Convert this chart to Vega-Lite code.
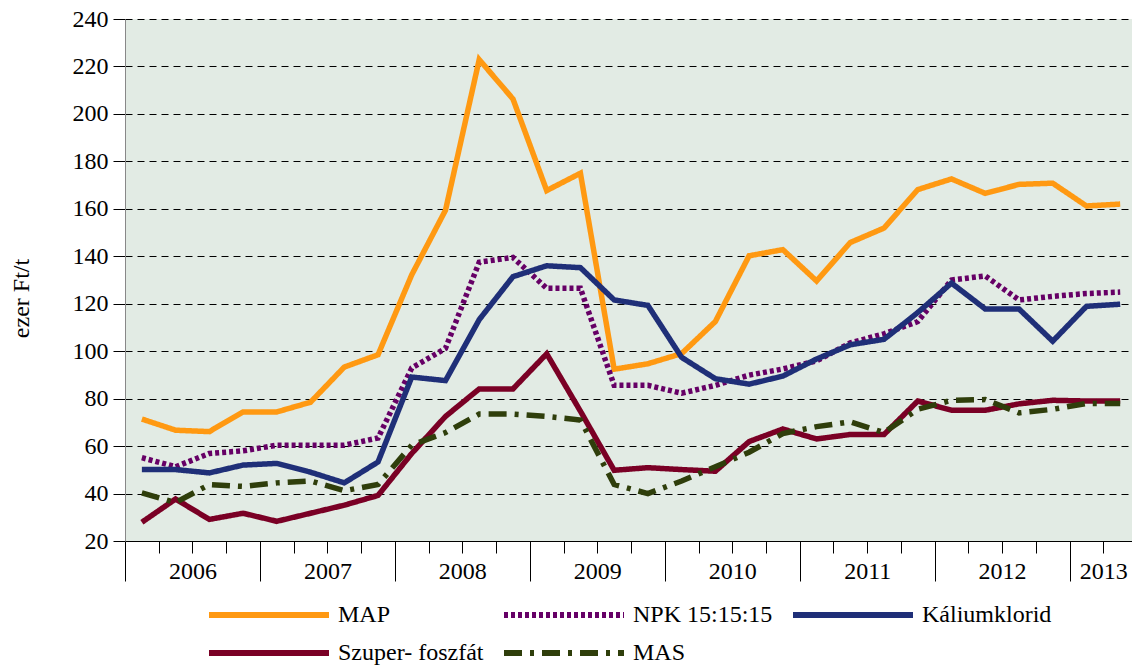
{
  "$schema": "https://vega.github.io/schema/vega-lite/v6.json",
  "width": 1007,
  "height": 522,
  "autosize": {"type": "none"},
  "padding": {"left": 125, "top": 19, "right": 0, "bottom": 125},
  "config": {
    "font": "Liberation Serif",
    "view": {"stroke": null, "fill": "#E2EBE4"},
    "axis": {"labelFont": "Liberation Serif", "labelFontSize": 24, "labelColor": "#000", "titleFont": "Liberation Serif", "titleColor": "#000", "tickColor": "#000", "tickWidth": 1}
  },
  "resolve": {"axis": {"x": "independent"}, "scale": {"x": "shared"}},
  "layer": [
    {
      "data": {"values": [
        {"q":0.5,"s":"MAP","v":71.4},{"q":1.5,"s":"MAP","v":66.7},{"q":2.5,"s":"MAP","v":66.1},{"q":3.5,"s":"MAP","v":74.4},{"q":4.5,"s":"MAP","v":74.4},{"q":5.5,"s":"MAP","v":78.5},{"q":6.5,"s":"MAP","v":93.3},{"q":7.5,"s":"MAP","v":98.5},{"q":8.5,"s":"MAP","v":132.2},{"q":9.5,"s":"MAP","v":159.4},{"q":10.5,"s":"MAP","v":222.9},{"q":11.5,"s":"MAP","v":206.3},{"q":12.5,"s":"MAP","v":167.7},{"q":13.5,"s":"MAP","v":175},{"q":14.5,"s":"MAP","v":92.4},{"q":15.5,"s":"MAP","v":94.7},{"q":16.5,"s":"MAP","v":99},{"q":17.5,"s":"MAP","v":112.5},{"q":18.5,"s":"MAP","v":140.2},{"q":19.5,"s":"MAP","v":142.8},{"q":20.5,"s":"MAP","v":129.6},{"q":21.5,"s":"MAP","v":145.8},{"q":22.5,"s":"MAP","v":151.9},{"q":23.5,"s":"MAP","v":168.1},{"q":24.5,"s":"MAP","v":172.6},{"q":25.5,"s":"MAP","v":166.5},{"q":26.5,"s":"MAP","v":170.3},{"q":27.5,"s":"MAP","v":170.8},{"q":28.5,"s":"MAP","v":161.2},{"q":29.5,"s":"MAP","v":162},
        {"q":0.5,"s":"NPK 15:15:15","v":55.1},{"q":1.5,"s":"NPK 15:15:15","v":51.3},{"q":2.5,"s":"NPK 15:15:15","v":56.9},{"q":3.5,"s":"NPK 15:15:15","v":58},{"q":4.5,"s":"NPK 15:15:15","v":60.4},{"q":5.5,"s":"NPK 15:15:15","v":60.4},{"q":6.5,"s":"NPK 15:15:15","v":60.4},{"q":7.5,"s":"NPK 15:15:15","v":63.4},{"q":8.5,"s":"NPK 15:15:15","v":92.9},{"q":9.5,"s":"NPK 15:15:15","v":101.2},{"q":10.5,"s":"NPK 15:15:15","v":137.5},{"q":11.5,"s":"NPK 15:15:15","v":139.5},{"q":12.5,"s":"NPK 15:15:15","v":126.5},{"q":13.5,"s":"NPK 15:15:15","v":126.5},{"q":14.5,"s":"NPK 15:15:15","v":85.6},{"q":15.5,"s":"NPK 15:15:15","v":85.6},{"q":16.5,"s":"NPK 15:15:15","v":82.3},{"q":17.5,"s":"NPK 15:15:15","v":85.6},{"q":18.5,"s":"NPK 15:15:15","v":89.9},{"q":19.5,"s":"NPK 15:15:15","v":92.5},{"q":20.5,"s":"NPK 15:15:15","v":95.9},{"q":21.5,"s":"NPK 15:15:15","v":103.5},{"q":22.5,"s":"NPK 15:15:15","v":107.3},{"q":23.5,"s":"NPK 15:15:15","v":112.5},{"q":24.5,"s":"NPK 15:15:15","v":130},{"q":25.5,"s":"NPK 15:15:15","v":131.7},{"q":26.5,"s":"NPK 15:15:15","v":121.6},{"q":27.5,"s":"NPK 15:15:15","v":123.1},{"q":28.5,"s":"NPK 15:15:15","v":124.3},{"q":29.5,"s":"NPK 15:15:15","v":124.9},
        {"q":0.5,"s":"Káliumklorid","v":50.1},{"q":1.5,"s":"Káliumklorid","v":50.1},{"q":2.5,"s":"Káliumklorid","v":48.7},{"q":3.5,"s":"Káliumklorid","v":52},{"q":4.5,"s":"Káliumklorid","v":52.7},{"q":5.5,"s":"Káliumklorid","v":49},{"q":6.5,"s":"Káliumklorid","v":44.5},{"q":7.5,"s":"Káliumklorid","v":53.3},{"q":8.5,"s":"Káliumklorid","v":89.1},{"q":9.5,"s":"Káliumklorid","v":87.6},{"q":10.5,"s":"Káliumklorid","v":113.3},{"q":11.5,"s":"Káliumklorid","v":131.4},{"q":12.5,"s":"Káliumklorid","v":136},{"q":13.5,"s":"Káliumklorid","v":135.2},{"q":14.5,"s":"Káliumklorid","v":121.6},{"q":15.5,"s":"Káliumklorid","v":119.3},{"q":16.5,"s":"Káliumklorid","v":97.4},{"q":17.5,"s":"Káliumklorid","v":88.4},{"q":18.5,"s":"Káliumklorid","v":86.1},{"q":19.5,"s":"Káliumklorid","v":89.5},{"q":20.5,"s":"Káliumklorid","v":96.7},{"q":21.5,"s":"Káliumklorid","v":102.7},{"q":22.5,"s":"Káliumklorid","v":105},{"q":23.5,"s":"Káliumklorid","v":116.3},{"q":24.5,"s":"Káliumklorid","v":128.7},{"q":25.5,"s":"Káliumklorid","v":117.8},{"q":26.5,"s":"Káliumklorid","v":117.8},{"q":27.5,"s":"Káliumklorid","v":104.2},{"q":28.5,"s":"Káliumklorid","v":118.9},{"q":29.5,"s":"Káliumklorid","v":119.8},
        {"q":0.5,"s":"Szuper- foszfát","v":27.9},{"q":1.5,"s":"Szuper- foszfát","v":37.7},{"q":2.5,"s":"Szuper- foszfát","v":29.1},{"q":3.5,"s":"Szuper- foszfát","v":31.7},{"q":4.5,"s":"Szuper- foszfát","v":28.3},{"q":5.5,"s":"Szuper- foszfát","v":31.7},{"q":6.5,"s":"Szuper- foszfát","v":35.1},{"q":7.5,"s":"Szuper- foszfát","v":39.2},{"q":8.5,"s":"Szuper- foszfát","v":56.9},{"q":9.5,"s":"Szuper- foszfát","v":72.5},{"q":10.5,"s":"Szuper- foszfát","v":84.1},{"q":11.5,"s":"Szuper- foszfát","v":84.1},{"q":12.5,"s":"Szuper- foszfát","v":98.9},{"q":13.5,"s":"Szuper- foszfát","v":74.7},{"q":14.5,"s":"Szuper- foszfát","v":49.8},{"q":15.5,"s":"Szuper- foszfát","v":50.9},{"q":16.5,"s":"Szuper- foszfát","v":50.1},{"q":17.5,"s":"Szuper- foszfát","v":49.4},{"q":18.5,"s":"Szuper- foszfát","v":61.9},{"q":19.5,"s":"Szuper- foszfát","v":67.2},{"q":20.5,"s":"Szuper- foszfát","v":63},{"q":21.5,"s":"Szuper- foszfát","v":64.9},{"q":22.5,"s":"Szuper- foszfát","v":64.9},{"q":23.5,"s":"Szuper- foszfát","v":79},{"q":24.5,"s":"Szuper- foszfát","v":75.1},{"q":25.5,"s":"Szuper- foszfát","v":75.1},{"q":26.5,"s":"Szuper- foszfát","v":77.8},{"q":27.5,"s":"Szuper- foszfát","v":79.3},{"q":28.5,"s":"Szuper- foszfát","v":79},{"q":29.5,"s":"Szuper- foszfát","v":79},
        {"q":0.5,"s":"MAS","v":40.3},{"q":1.5,"s":"MAS","v":36.2},{"q":2.5,"s":"MAS","v":43.8},{"q":3.5,"s":"MAS","v":43},{"q":4.5,"s":"MAS","v":44.5},{"q":5.5,"s":"MAS","v":45.3},{"q":6.5,"s":"MAS","v":41.2},{"q":7.5,"s":"MAS","v":43.8},{"q":8.5,"s":"MAS","v":60.4},{"q":9.5,"s":"MAS","v":65.7},{"q":10.5,"s":"MAS","v":73.5},{"q":11.5,"s":"MAS","v":73.5},{"q":12.5,"s":"MAS","v":72.5},{"q":13.5,"s":"MAS","v":71},{"q":14.5,"s":"MAS","v":43.8},{"q":15.5,"s":"MAS","v":40},{"q":16.5,"s":"MAS","v":45.3},{"q":17.5,"s":"MAS","v":51.3},{"q":18.5,"s":"MAS","v":57.4},{"q":19.5,"s":"MAS","v":65.3},{"q":20.5,"s":"MAS","v":68.2},{"q":21.5,"s":"MAS","v":70.2},{"q":22.5,"s":"MAS","v":65.7},{"q":23.5,"s":"MAS","v":75.5},{"q":24.5,"s":"MAS","v":79.3},{"q":25.5,"s":"MAS","v":79.6},{"q":26.5,"s":"MAS","v":74},{"q":27.5,"s":"MAS","v":75.5},{"q":28.5,"s":"MAS","v":78},{"q":29.5,"s":"MAS","v":78}
      ]},
      "mark": {"type": "line", "strokeWidth": 5.5, "strokeCap": "butt", "strokeJoin": "miter", "clip": true},
      "encoding": {
        "x": {"field": "q", "type": "quantitative",
          "scale": {"domain": [0, 29.85], "nice": false, "zero": false},
          "axis": {"orient": "bottom", "title": null, "values": [0,1,2,3,4,5,6,7,8,9,10,11,12,13,14,15,16,17,18,19,20,21,22,23,24,25,26,27,28,29], "labels": false, "tickSize": 12, "grid": false, "domainColor": "#000", "domainWidth": 1}},
        "y": {"field": "v", "type": "quantitative",
          "scale": {"domain": [20, 240], "nice": false, "zero": false},
          "axis": {"title": "ezer Ft/t", "titleFontSize": 24, "titleFontWeight": "normal", "titleX": -104, "titleY": 279, "titleBaseline": "middle", "titleAlign": "center", "titleAngle": -90,
            "values": [20,40,60,80,100,120,140,160,180,200,220,240], "tickSize": 12, "labelPadding": 5,
            "grid": true, "gridColor": "#000", "gridDash": [7, 5], "gridWidth": 1, "domainColor": "#888", "domainWidth": 1}},
        "color": {"field": "s", "type": "nominal",
          "scale": {"domain": ["MAP", "NPK 15:15:15", "Káliumklorid", "Szuper- foszfát", "MAS"], "range": ["#FF9912", "#660066", "#1F2F78", "#7A0025", "#2F3E0B"]},
          "legend": {"title": null, "orient": "none", "legendX": 81, "legendY": 577, "direction": "horizontal", "columns": 3, "symbolType": "stroke", "symbolSize": 14400, "symbolStrokeWidth": 6, "clipHeight": 38, "labelFontSize": 24, "labelFont": "Liberation Serif", "labelColor": "#000", "labelOffset": 6, "columnPadding": 17, "rowPadding": 0, "padding": 0, "offset": 0, "labelLimit": 300}},
        "strokeDash": {"field": "s", "type": "nominal",
          "scale": {"domain": ["MAP", "NPK 15:15:15", "Káliumklorid", "Szuper- foszfát", "MAS"], "range": [[1, 0], [4, 3], [1, 0], [1, 0], [18, 8, 4, 8]]},
          "legend": {"title": null, "orient": "none", "legendX": 81, "legendY": 577, "direction": "horizontal", "columns": 3, "symbolType": "stroke", "symbolSize": 14400, "symbolStrokeWidth": 6, "clipHeight": 38, "labelFontSize": 24, "labelFont": "Liberation Serif", "labelColor": "#000", "labelOffset": 6, "columnPadding": 17, "rowPadding": 0, "padding": 0, "offset": 0, "labelLimit": 300}}
      }
    },
    {
      "data": {"values": [{"b":0},{"b":4},{"b":8},{"b":12},{"b":16},{"b":20},{"b":24},{"b":28}]},
      "mark": {"type": "rule", "opacity": 0},
      "encoding": {
        "x": {"field": "b", "type": "quantitative",
          "axis": {"orient": "bottom", "title": null, "values": [0,4,8,12,16,20,24,28], "labels": false, "tickSize": 40, "grid": false, "domain": false}}
      }
    },
    {
      "data": {"values": [{"m":2,"yr":"2006"},{"m":6,"yr":"2007"},{"m":10,"yr":"2008"},{"m":14,"yr":"2009"},{"m":18,"yr":"2010"},{"m":22,"yr":"2011"},{"m":26,"yr":"2012"},{"m":29,"yr":"2013"}]},
      "mark": {"type": "rule", "opacity": 0},
      "encoding": {
        "x": {"field": "m", "type": "quantitative",
          "axis": {"orient": "bottom", "title": null, "values": [2,6,10,14,18,22,26,29], "labelExpr": "datum.value == 29 ? '2013' : '' + (2006 + (datum.value - 2) / 4)", "ticks": false, "labelPadding": 18, "grid": false, "domain": false, "labelFlush": false, "labelOverlap": false}}
      }
    }
  ]
}
